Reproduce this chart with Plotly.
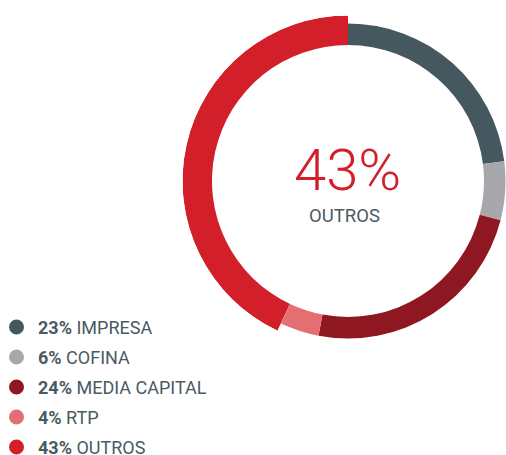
import math
import plotly.graph_objects as go

labels = ["IMPRESA", "COFINA", "MEDIA CAPITAL", "RTP", "OUTROS"]
values = [23, 6, 24, 4, 43]
colors = ["#45575f", "#a7a8ab", "#8e1721", "#e46f73", "#d21f29"]
highlight = "OUTROS"
text_color = "#4a5a63"

W, H = 506, 455
cx, cy = 348, 181
r_thin, r_thick, r_in = 157.5, 165.5, 136

fig = go.Figure()
# thin ring for all slices except highlighted
fig.add_trace(go.Pie(
    labels=labels, values=values, sort=False, direction="clockwise", rotation=0,
    marker=dict(colors=[c if l != highlight else "rgba(0,0,0,0)" for l, c in zip(labels, colors)],
                line=dict(width=0)),
    hole=r_in / r_thin,
    domain=dict(x=[(cx - r_thin) / W, min(1, (cx + r_thin) / W)],
                y=[1 - (cy + r_thin) / H, 1 - (cy - r_thin) / H]),
    textinfo="none", hoverinfo="label+percent", showlegend=False,
))

# thick highlighted slice drawn as a bar on a polar sector
total = sum(values)
hi = labels.index(highlight)
start = sum(values[:hi]) / total * 360
span = values[hi] / total * 360
theta_c = start + span / 2
s0 = (90 - (start + span)) % 360
s1 = s0 + span

def bbox(a0, a1):
    ax0, ay0 = math.cos(math.radians(a0)), math.sin(math.radians(a0))
    ax1, ay1 = math.cos(math.radians(a1)), math.sin(math.radians(a1))
    def has(a):
        return (a0 <= a and a1 >= a) or (a0 > a and a1 >= a + 360)
    x1 = 1 if has(0) else (0 if ax0 <= 0 and ax1 <= 0 else max(ax0, ax1))
    y1 = 1 if has(90) else (0 if ay0 <= 0 and ay1 <= 0 else max(ay0, ay1))
    x0 = -1 if has(180) else (0 if ax0 >= 0 and ax1 >= 0 else min(ax0, ax1))
    y0 = -1 if has(270) else (0 if ay0 >= 0 and ay1 >= 0 else min(ay0, ay1))
    return x0, y0, x1, y1

bx0, by0, bx1, by1 = bbox(s0, s1)
px0, px1 = cx + r_thick * bx0, cx + r_thick * bx1
py_top, py_bot = cy - r_thick * by1, cy - r_thick * by0

fig.add_trace(go.Barpolar(
    r=[r_thick - r_in], base=[r_in], theta=[theta_c], width=[span],
    marker=dict(color=colors[hi], line=dict(width=0)),
    name=highlight, showlegend=False, hoverinfo="name",
))

fig.update_layout(
    polar=dict(
        domain=dict(x=[px0 / W, px1 / W], y=[1 - py_bot / H, 1 - py_top / H]),
        sector=[s0, s1], bgcolor="rgba(0,0,0,0)",
        radialaxis=dict(range=[0, r_thick], visible=False, showgrid=False, showline=False),
        angularaxis=dict(rotation=90, direction="clockwise", visible=False,
                         showgrid=False, showline=False),
    )
)

def px(x):
    return x / W

def py(y):
    return 1 - y / H

annotations = [
    dict(x=px(347), y=py(170), xref="paper", yref="paper", showarrow=False,
         text=f"{values[hi]}%", font=dict(family="Roboto", size=58, color=colors[hi], weight=300),
         xanchor="center", yanchor="middle"),
    dict(x=px(344), y=py(216), xref="paper", yref="paper", showarrow=False,
         text=highlight, font=dict(family="Roboto", size=18.5, color=text_color),
         xanchor="center", yanchor="middle"),
]
shapes = []
row0, step = 327, 30
for i, (l, v, c) in enumerate(zip(labels, values, colors)):
    yc = row0 + i * step
    shapes.append(dict(type="circle", xref="paper", yref="paper",
                       x0=px(16.5 - 7.5), x1=px(16.5 + 7.5),
                       y0=py(yc + 7.5), y1=py(yc - 7.5),
                       fillcolor=c, line=dict(width=0)))
    annotations.append(dict(x=px(36), y=py(yc), xref="paper", yref="paper", showarrow=False,
                            text=f"<b>{v}%</b> {l}", xanchor="left", yanchor="middle",
                            font=dict(family="Roboto", size=18, color=text_color)))

fig.update_layout(
    width=W, height=H, margin=dict(l=0, r=0, t=0, b=0),
    paper_bgcolor="white", plot_bgcolor="white",
    annotations=annotations, shapes=shapes, showlegend=False,
)
fig.write_html(
    "out.html",
    config={"displayModeBar": False},
    post_script="document.body.style.margin='0';document.body.style.overflow='hidden';",
)
